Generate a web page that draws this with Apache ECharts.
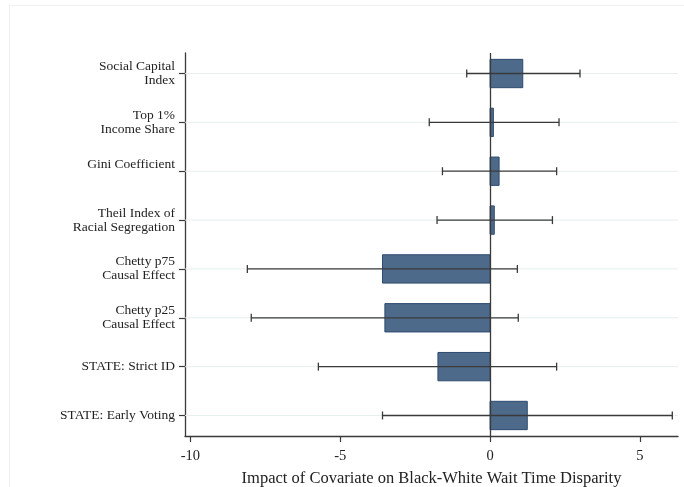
<!DOCTYPE html>
<html>
<head>
<meta charset="utf-8">
<script src="https://cdn.jsdelivr.net/npm/echarts@6/dist/echarts.min.js"></script>
<style>html,body{margin:0;padding:0;background:#fff;}#chart{width:684px;height:487px;}</style>
</head>
<body>
<div id="chart"></div>
<script>
var categories = [
  'Social Capital\nIndex',
  'Top 1%\nIncome Share',
  'Gini Coefficient\n ',
  'Theil Index of\nRacial Segregation',
  'Chetty p75\nCausal Effect',
  'Chetty p25\nCausal Effect',
  'STATE: Strict ID',
  'STATE: Early Voting'
];
var coef   = [1.09, 0.11, 0.30, 0.14, -3.59, -3.51, -1.74, 1.24];
var ciLow  = [-0.78, -2.03, -1.59, -1.77, -8.10, -7.97, -5.73, -3.59];
var ciHigh = [3.00, 2.30, 2.22, 2.08, 0.91, 0.94, 2.22, 6.08];
var xTicks = [-10, -5, 0, 5];
var xTitle = 'Impact of Covariate on Black-White Wait Time Disparity';

var catIdx = categories.map(function (c, i) { return i; });
var XMIN = -10.18, XMAX = 6.27;
var FONT = 'Liberation Serif';

var chart = echarts.init(document.getElementById('chart'), null, {renderer: 'canvas'});
var data = categories.map(function (c, i) { return [i, coef[i], ciLow[i], ciHigh[i]]; });

chart.setOption({
  backgroundColor: '#ffffff',
  animation: false,
  graphic: [{
    type: 'rect', silent: true, z: -10,
    shape: {x: 9.5, y: 5.5, width: 690, height: 500},
    style: {fill: 'none', stroke: '#edf1f3', lineWidth: 1}
  }],
  grid: {left: 185, right: 6, top: 53, bottom: 51, containLabel: false, outerBoundsMode: 'none'},
  xAxis: {
    type: 'value', min: XMIN, max: XMAX,
    axisLine: {show: true, onZero: false, lineStyle: {color: '#3a3a3a', width: 1.3}},
    axisTick: {show: true, length: 6, customValues: xTicks, lineStyle: {color: '#3a3a3a', width: 1.2}},
    axisLabel: {customValues: xTicks, color: '#222', fontFamily: FONT, fontSize: 14.5, margin: 13,
      formatter: function (v) { return String(v); }},
    splitLine: {show: false},
    name: xTitle, nameLocation: 'middle', nameGap: 34,
    nameTextStyle: {color: '#222', fontFamily: FONT, fontSize: 16.5}
  },
  yAxis: {
    type: 'value', inverse: true, min: -0.42, max: 7.42,
    axisLine: {show: true, onZero: false, lineStyle: {color: '#3a3a3a', width: 1.3}},
    axisTick: {show: true, length: 6, customValues: catIdx, lineStyle: {color: '#3a3a3a', width: 1.2}},
    axisLabel: {customValues: catIdx, color: '#222', fontFamily: FONT, fontSize: 13.5, lineHeight: 14, margin: 10,
      formatter: function (v) { return categories[Math.round(v)]; }},
    splitLine: {show: false}
  },
  series: [{
    type: 'custom',
    data: data,
    encode: {x: [1, 2, 3], y: 0},
    renderItem: function (params, api) {
      var i = api.value(0);
      var b = api.value(1), lo = api.value(2), hi = api.value(3);
      var g0 = api.coord([XMIN, i]), g1 = api.coord([XMAX, i]);
      var p0 = api.coord([0, i]), pb = api.coord([b, i]);
      var pl = api.coord([lo, i]), ph = api.coord([hi, i]);
      var h = api.size([0, 0.58])[1];
      var cap = 4;
      var lineStyle = {stroke: '#3a3a3a', lineWidth: 1.3};
      return {
        type: 'group',
        children: [
          {type: 'line', shape: {x1: g0[0], y1: g0[1], x2: g1[0], y2: g1[1]},
           style: {stroke: '#e6eeee', lineWidth: 1}},
          {type: 'rect', shape: {x: Math.min(p0[0], pb[0]), y: p0[1] - h / 2, width: Math.abs(pb[0] - p0[0]), height: h},
           style: {fill: '#4e6a8b', stroke: '#2d4a6f', lineWidth: 1}},
          {type: 'line', shape: {x1: pl[0], y1: pl[1], x2: ph[0], y2: ph[1]}, style: lineStyle},
          {type: 'line', shape: {x1: pl[0], y1: pl[1] - cap, x2: pl[0], y2: pl[1] + cap}, style: lineStyle},
          {type: 'line', shape: {x1: ph[0], y1: ph[1] - cap, x2: ph[0], y2: ph[1] + cap}, style: lineStyle}
        ]
      };
    },
    markLine: {
      silent: true, symbol: ['none', 'none'], label: {show: false},
      lineStyle: {color: '#3a3a3a', width: 1.3, type: 'solid'},
      data: [{xAxis: 0}]
    },
    z: 2
  }]
});
</script>
</body>
</html>
